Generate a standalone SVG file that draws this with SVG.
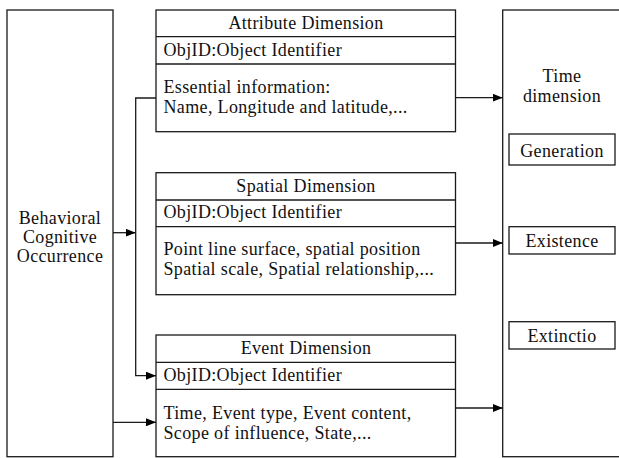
<svg xmlns="http://www.w3.org/2000/svg" width="619" height="458" viewBox="0 0 619 458">
<defs>
<marker id="ah" markerWidth="10" markerHeight="8" refX="10" refY="4" orient="auto" markerUnits="userSpaceOnUse">
<path d="M0,0 L10,4 L0,8 Z" fill="#000"/>
</marker>
<style>
rect{fill:#fff;stroke:#1a1a1a;stroke-width:1.3}
line,path.c{stroke:#1a1a1a;stroke-width:1.3;fill:none}
text{font-family:"Liberation Serif","Times New Roman",Times,serif;font-size:18px;fill:#111;letter-spacing:0.35px}
.m{text-anchor:middle}
</style>
</defs>
<rect x="0" y="0" width="619" height="458" style="fill:#fff;stroke:none"/>
<g id="behavioral">
<rect x="7" y="10" width="106" height="446.7"/>
<text class="m" x="60" y="224">Behavioral</text>
<text class="m" x="60" y="243">Cognitive</text>
<text class="m" x="60" y="262">Occurrence</text>
</g>
<g id="attribute">
<rect x="156" y="10" width="299.5" height="121.7"/>
<line x1="156" y1="36.7" x2="455.5" y2="36.7"/>
<line x1="156" y1="64" x2="455.5" y2="64"/>
<text class="m" x="306" y="29">Attribute Dimension</text>
<text x="163.5" y="55.5">ObjID:Object Identifier</text>
<text x="163.5" y="93">Essential information:</text>
<text x="163.5" y="113">Name, Longitude and latitude,...</text>
</g>
<g id="spatial">
<rect x="156" y="172.7" width="299.5" height="122"/>
<line x1="156" y1="200" x2="455.5" y2="200"/>
<line x1="156" y1="226.7" x2="455.5" y2="226.7"/>
<text class="m" x="306" y="191.5">Spatial Dimension</text>
<text x="163.5" y="218">ObjID:Object Identifier</text>
<text x="163.5" y="255">Point line surface, spatial position</text>
<text x="163.5" y="274.5">Spatial scale, Spatial relationship,...</text>
</g>
<g id="event">
<rect x="156" y="335" width="299.5" height="121.7"/>
<line x1="156" y1="362.3" x2="455.5" y2="362.3"/>
<line x1="156" y1="389.3" x2="455.5" y2="389.3"/>
<text class="m" x="306" y="354">Event Dimension</text>
<text x="163.5" y="380.5">ObjID:Object Identifier</text>
<text x="163.5" y="418.5">Time, Event type, Event content,</text>
<text x="163.5" y="438.5">Scope of influence, State,...</text>
</g>
<g id="time">
<rect x="502.7" y="10" width="130" height="446.7"/>
<text class="m" x="562" y="82">Time</text>
<text class="m" x="562" y="102">dimension</text>
</g>
<g id="generation">
<rect x="509" y="134" width="106" height="31"/>
<text class="m" x="562" y="156.5">Generation</text>
</g>
<g id="existence">
<rect x="509" y="226.7" width="106" height="27.3"/>
<text class="m" x="562" y="246.5">Existence</text>
</g>
<g id="extinction">
<rect x="509" y="321.7" width="106" height="27.3"/>
<text class="m" x="562" y="341.5">Extinctio</text>
</g>
<g id="connectors">
<line x1="113" y1="232.7" x2="135.7" y2="232.7" marker-end="url(#ah)"/>
<path class="c" d="M156,98 H135.7 V375.7 H156" marker-end="url(#ah)"/>
<line x1="113" y1="422.3" x2="156" y2="422.3" marker-end="url(#ah)"/>
<line x1="455.5" y1="97.7" x2="502.7" y2="97.7" marker-end="url(#ah)"/>
<line x1="455.5" y1="243" x2="502.7" y2="243" marker-end="url(#ah)"/>
<line x1="455.5" y1="408" x2="502.7" y2="408" marker-end="url(#ah)"/>
</g>
</svg>
